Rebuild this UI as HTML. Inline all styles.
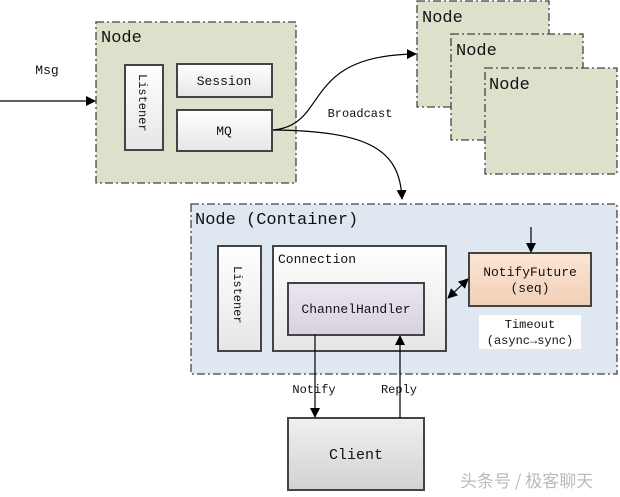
<!DOCTYPE html>
<html><head><meta charset="utf-8"><style>
html,body{margin:0;padding:0;background:#fff;width:620px;height:497px;overflow:hidden}
svg{display:block}
text{font-family:"Liberation Mono","DejaVu Sans Mono",monospace;fill:#111}
</style></head><body>
<svg width="620" height="497" viewBox="0 0 620 497" xmlns="http://www.w3.org/2000/svg">
<defs>
<linearGradient id="w" x1="0" y1="0" x2="0" y2="1"><stop offset="0" stop-color="#ffffff"/><stop offset="1" stop-color="#e6e6e6"/></linearGradient>
<linearGradient id="p" x1="0" y1="0" x2="0" y2="1"><stop offset="0" stop-color="#ebe6f0"/><stop offset="1" stop-color="#d8d0e0"/></linearGradient>
<linearGradient id="o" x1="0" y1="0" x2="0" y2="1"><stop offset="0" stop-color="#fbe6d6"/><stop offset="1" stop-color="#f2cfb5"/></linearGradient>
<linearGradient id="g" x1="0" y1="0" x2="0" y2="1"><stop offset="0" stop-color="#f0f0f0"/><stop offset="1" stop-color="#d2d2d2"/></linearGradient>
<marker id="a" markerWidth="10" markerHeight="10" refX="9" refY="5" orient="auto" markerUnits="userSpaceOnUse"><path d="M0,0 L10,5 L0,10 Z" fill="#000"/></marker>
<marker id="as" markerWidth="10" markerHeight="10" refX="1" refY="5" orient="auto" markerUnits="userSpaceOnUse"><path d="M10,0 L0,5 L10,10 Z" fill="#000"/></marker>
</defs>
<g stroke="#444" stroke-width="1.3" stroke-dasharray="8,3,2,3">
<rect x="96" y="22" width="200" height="161" fill="#dfe0cc"/>
<rect x="417" y="1" width="132" height="106" fill="#dfe0cc"/>
<rect x="451" y="34" width="132" height="106" fill="#dfe0cc"/>
<rect x="485" y="68" width="132" height="106" fill="#dfe0cc"/>
<rect x="191" y="204" width="426" height="170" fill="#dfe8f1"/>
</g>
<text x="101" y="42" font-size="17">Node</text>
<text x="422" y="22" font-size="17">Node</text>
<text x="456" y="55" font-size="17">Node</text>
<text x="489" y="89" font-size="17">Node</text>
<text x="195" y="224" font-size="17">Node (Container)</text>
<g stroke="#444" stroke-width="2">
<rect x="125" y="65" width="38" height="85" fill="url(#w)"/>
<rect x="177" y="64" width="95" height="33" fill="url(#w)"/>
<rect x="177" y="110" width="95" height="41" fill="url(#w)"/>
<rect x="218" y="246" width="43" height="105" fill="url(#w)"/>
<rect x="273" y="246" width="173" height="105" fill="url(#w)"/>
<rect x="288" y="283" width="136" height="52" fill="url(#p)"/>
<rect x="469" y="253" width="122" height="53" fill="url(#o)"/>
<rect x="288" y="418" width="136" height="72" fill="url(#g)"/>
</g>
<rect x="479" y="315" width="102" height="34" fill="#fff"/>
<text x="224" y="80" font-size="12" transform="rotate(90 140 107)" x2="0"></text>
<text font-size="12" transform="translate(139,74) rotate(90)">Listener</text>
<text font-size="12" transform="translate(234,266) rotate(90)">Listener</text>
<text x="224" y="85" font-size="13" text-anchor="middle">Session</text>
<text x="224" y="135" font-size="13" text-anchor="middle">MQ</text>
<text x="47" y="74" font-size="13" text-anchor="middle">Msg</text>
<text x="360" y="117" font-size="12" text-anchor="middle">Broadcast</text>
<text x="278" y="263" font-size="13">Connection</text>
<text x="356" y="313" font-size="13" text-anchor="middle">ChannelHandler</text>
<text x="530" y="276" font-size="13" text-anchor="middle">NotifyFuture</text>
<text x="530" y="292" font-size="13" text-anchor="middle">(seq)</text>
<text x="530" y="328" font-size="12" text-anchor="middle">Timeout</text>
<text x="530" y="344" font-size="12" text-anchor="middle">(async→sync)</text>
<text x="314" y="393" font-size="12" text-anchor="middle">Notify</text>
<text x="399" y="393" font-size="12" text-anchor="middle">Reply</text>
<text x="356" y="459" font-size="15" text-anchor="middle">Client</text>
<text x="460" y="487" font-size="17" style="font-family:'Noto Sans CJK SC',sans-serif;fill:#bbb">头条号 / 极客聊天</text>
<g stroke="#000" stroke-width="1.2" fill="none">
<line x1="0" y1="101" x2="95" y2="101" marker-end="url(#a)"/>
<path d="M273,130 C330,125 300,55 416,54" marker-end="url(#a)"/>
<path d="M273,130 C370,131 400,150 402,199" marker-end="url(#a)"/>
<line x1="531" y1="227" x2="531" y2="252" marker-end="url(#a)"/>
<line x1="448" y1="298" x2="468" y2="279" marker-start="url(#as)" marker-end="url(#a)"/>
<line x1="315" y1="335" x2="315" y2="417" marker-end="url(#a)"/>
<line x1="400" y1="418" x2="400" y2="336" marker-end="url(#a)"/>
</g>
</svg>
</body></html>
